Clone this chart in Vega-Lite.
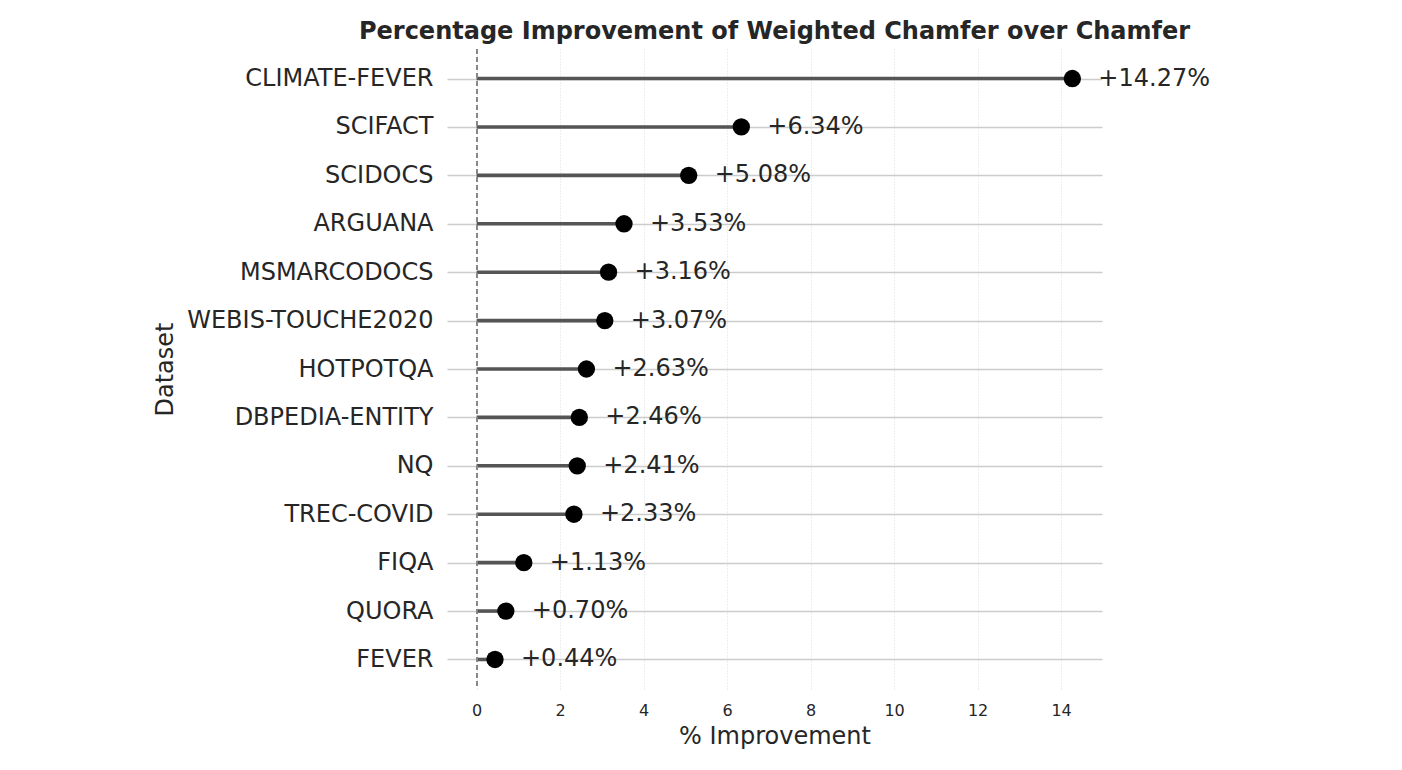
{
  "$schema": "https://vega.github.io/schema/vega-lite/v6.json",
  "autosize": {"type": "none"},
  "width": 655,
  "height": 640,
  "padding": {"left": 447, "top": 49, "right": 300, "bottom": 81},
  "background": "white",
  "config": {
    "font": "DejaVu Sans",
    "view": {"stroke": null},
    "axis": {"domain": false, "ticks": false, "labelColor": "#262626", "titleColor": "#262626", "titleFontWeight": "normal"}
  },
  "title": {
    "text": "Percentage Improvement of Weighted Chamfer over Chamfer",
    "fontSize": 24,
    "fontWeight": "bold",
    "color": "#262626",
    "anchor": "middle",
    "offset": 4
  },
  "data": {
    "values": [
      {"dataset": "CLIMATE-FEVER", "improvement": 14.27, "label": "+14.27%"},
      {"dataset": "SCIFACT", "improvement": 6.34, "label": "+6.34%"},
      {"dataset": "SCIDOCS", "improvement": 5.08, "label": "+5.08%"},
      {"dataset": "ARGUANA", "improvement": 3.53, "label": "+3.53%"},
      {"dataset": "MSMARCODOCS", "improvement": 3.16, "label": "+3.16%"},
      {"dataset": "WEBIS-TOUCHE2020", "improvement": 3.07, "label": "+3.07%"},
      {"dataset": "HOTPOTQA", "improvement": 2.63, "label": "+2.63%"},
      {"dataset": "DBPEDIA-ENTITY", "improvement": 2.46, "label": "+2.46%"},
      {"dataset": "NQ", "improvement": 2.41, "label": "+2.41%"},
      {"dataset": "TREC-COVID", "improvement": 2.33, "label": "+2.33%"},
      {"dataset": "FIQA", "improvement": 1.13, "label": "+1.13%"},
      {"dataset": "QUORA", "improvement": 0.70, "label": "+0.70%"},
      {"dataset": "FEVER", "improvement": 0.44, "label": "+0.44%"}
    ]
  },
  "layer": [
    {
      "mark": {"type": "rule", "color": "#555555", "strokeWidth": 3.6},
      "encoding": {
        "y": {
          "field": "dataset",
          "type": "nominal",
          "sort": null,
          "scale": {"type": "point", "padding": 0.61},
          "axis": {
            "title": "Dataset",
            "titleFontSize": 24,
            "titleX": -282,
            "titleY": 320,
            "titleAngle": -90,
            "titleAlign": "center",
            "titleBaseline": "middle",
            "labelFontSize": 24,
            "labelLimit": 400,
            "labelPadding": 14,
            "grid": true,
            "gridColor": "#cccccc",
            "gridWidth": 1.3
          }
        },
        "x": {
          "field": "improvement",
          "type": "quantitative",
          "scale": {"domain": [-0.71, 14.98], "nice": false, "zero": false},
          "axis": {
            "title": "% Improvement",
            "titleFontSize": 24,
            "labelFontSize": 16,
            "values": [0, 2, 4, 6, 8, 10, 12, 14],
            "labelPadding": 13,
            "titlePadding": 6,
            "grid": true,
            "gridColor": "#dddddd",
            "gridDash": [1, 2],
            "gridWidth": 1
          }
        },
        "x2": {"datum": 0}
      }
    },
    {
      "mark": {"type": "rule", "color": "#888888", "strokeDash": [5, 3], "strokeWidth": 1.2},
      "encoding": {"x": {"datum": 0, "type": "quantitative"}}
    },
    {
      "mark": {"type": "point", "filled": true, "color": "#000000", "opacity": 1, "size": 300},
      "encoding": {
        "x": {"field": "improvement", "type": "quantitative"},
        "y": {"field": "dataset", "type": "nominal", "sort": null}
      }
    },
    {
      "mark": {"type": "text", "align": "left", "baseline": "middle", "dx": 26, "fontSize": 24, "color": "#262626"},
      "encoding": {
        "x": {"field": "improvement", "type": "quantitative"},
        "y": {"field": "dataset", "type": "nominal", "sort": null},
        "text": {"field": "label", "type": "nominal"}
      }
    }
  ]
}
